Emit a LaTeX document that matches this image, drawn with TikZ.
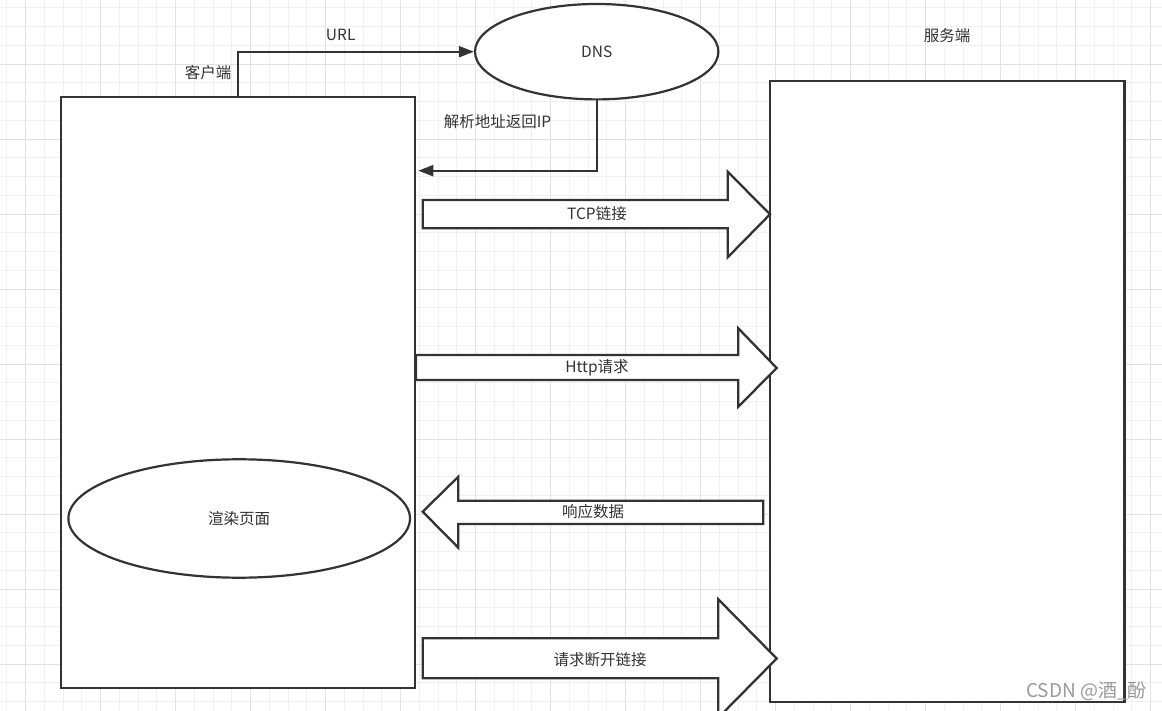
\documentclass[tikz,border=0pt]{standalone}
\usepackage{fontspec}
\setmainfont{Noto Sans CJK SC}
\usetikzlibrary{arrows.meta,shapes.geometric}
\definecolor{ink}{HTML}{333333}
\definecolor{gridminor}{HTML}{F0F0F0}
\definecolor{gridmajor}{HTML}{E2E2E2}
\definecolor{wm}{HTML}{999999}
\tikzset{
  minorline/.style={draw=gridminor, line width=1bp},
  majorline/.style={draw=gridmajor, line width=1bp},
  box/.style={draw=ink, fill=white, line width=2.3bp, inner sep=0pt, rectangle},
  oval/.style={draw=ink, fill=white, line width=2.2bp, inner sep=0pt, ellipse},
  conn/.style={draw=ink, line width=2.2bp, -{Triangle[length=15bp,width=11bp]}},
  blockarrow/.style={draw=ink, fill=white, line width=2.3bp, line join=miter},
  lbl/.style={text=ink, inner sep=0pt, font=\fontsize{15.5bp}{18bp}\selectfont},
  wmtext/.style={text=wm, inner sep=0pt, font=\fontsize{19bp}{22bp}\selectfont}
}
\begin{document}
\begin{tikzpicture}[x=1bp,y=-1bp]
\useasboundingbox (0,0) rectangle (1162,711);
\fill[white] (0,0) rectangle (1162,711);
% grid
\foreach \i in {0,...,61} {\draw[minorline] ({6.95+18.75*\i},0) -- ++(0,711);}
\foreach \i in {0,...,37} {\draw[minorline] (0,{7.9+18.75*\i}) -- ++(1162,0);}
\foreach \i in {0,...,15} {\draw[majorline] ({25.7+75*\i},0) -- ++(0,711);}
\foreach \i in {1,...,9} {\draw[majorline] (0,{-10.8+75*\i}) -- ++(1162,0);}

% main boxes
\node[box, minimum width=354.5bp, minimum height=621bp] (server) at (947.2,391.5) {};
\node[box, minimum width=354bp, minimum height=591bp] (client) at (238,392.5) {};
\node[oval, minimum width=341.6bp, minimum height=118.4bp] (render) at (239.2,518.5) {};
\node[lbl] at (render.center) {渲染页面};
\node[oval, minimum width=243.4bp, minimum height=95.4bp] (dns) at (596.7,51.7) {};
\node[lbl] at (596.7,52) {DNS};

% labels
\node[lbl] (clientlbl) at (208,73) {客户端};
\node[lbl] (serverlbl) at (947,36) {服务端};
\node[lbl] (urllbl) at (340.7,35) {URL};
\node[lbl] (iplbl) at (497.5,122) {解析地址返回IP};

% connectors
\draw[conn] (client.north) |- (dns.west);
\coordinate (retend) at (418.3,170.7);
\draw[conn] (dns.south) |- (retend);

% block arrows
\draw[blockarrow] (422.7,200) -- (727.7,200) -- (727.7,171.7) -- (770,214.3) -- (727.7,257.3) -- (727.7,228.3) -- (422.7,228.3) -- cycle;
\node[lbl] (tcp) at (597,214) {TCP链接};

\draw[blockarrow] (416,355) -- (738.3,355) -- (738.3,328.3) -- (776.7,368) -- (738.3,406.7) -- (738.3,380) -- (416,380) -- cycle;
\node[lbl] (http) at (597,367.5) {Http请求};

\draw[blockarrow] (763.3,500.7) -- (458.3,500.7) -- (458.3,476.7) -- (422.7,511.7) -- (458.3,547.7) -- (458.3,524) -- (763.3,524) -- cycle;
\node[lbl] (resp) at (593,512) {响应数据};

\draw[blockarrow] (422.7,638.3) -- (718.3,638.3) -- (718.3,599.3) -- (776.7,658.5) -- (718.3,717.7) -- (718.3,678.3) -- (422.7,678.3) -- cycle;
\node[lbl] (close) at (600,659.5) {请求断开链接};

% watermark
\node[wmtext, anchor=east] (wmk) at (1147,691) {CSDN @酒\_酚};
\end{tikzpicture}
\end{document}
